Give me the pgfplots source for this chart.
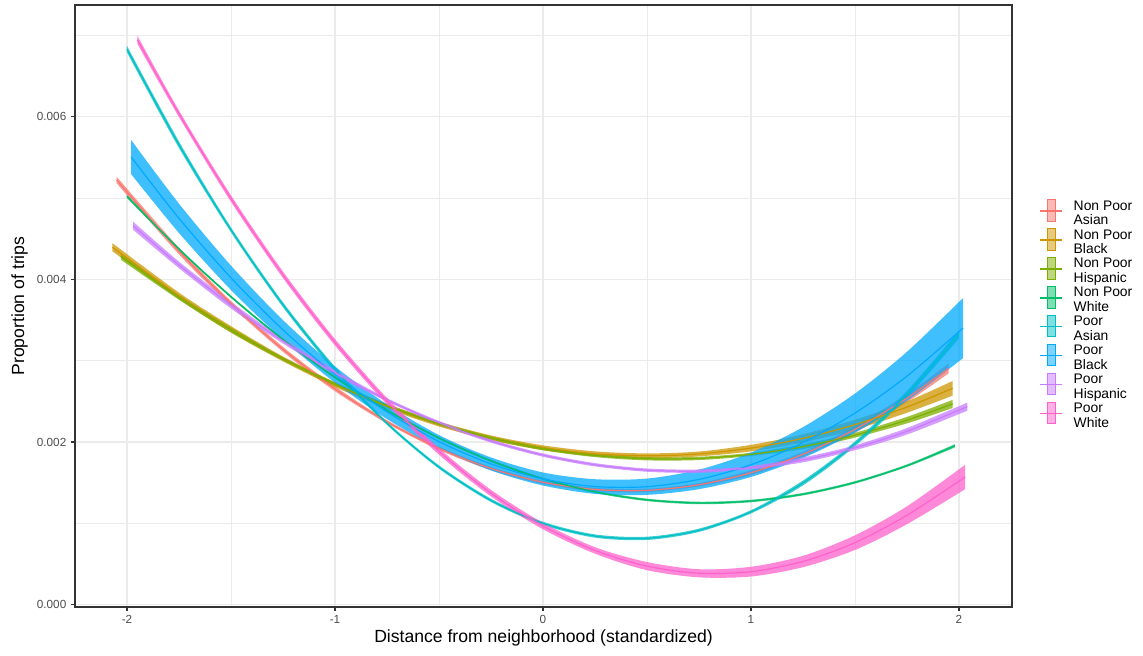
\documentclass[border=0pt]{standalone}
\usepackage{pgfplots}
\pgfplotsset{compat=1.18}
\usepackage{pgfplotstable}
\usepgfplotslibrary{fillbetween}
\usepackage{fontspec}
\setmainfont{Liberation Sans}

\definecolor{colA}{HTML}{F8766D}
\definecolor{colB}{HTML}{CD9600}
\definecolor{colC}{HTML}{7CAE00}
\definecolor{colD}{HTML}{00BE67}
\definecolor{colE}{HTML}{00BFC4}
\definecolor{colF}{HTML}{00A9FF}
\definecolor{colG}{HTML}{C77CFF}
\definecolor{colH}{HTML}{FF61CC}
\definecolor{gridmaj}{HTML}{EBEBEB}
\definecolor{tickgrey}{HTML}{4D4D4D}
\definecolor{border}{HTML}{333333}

% Non Poor Asian
\pgfplotstableread{
x y hw
-2.05 0.005225 0.00004
-1.75 0.004348 0.00004
-1.5 0.003704 0.00003
-1.25 0.00314 0.00003
-1 0.002655 0.00003
-0.75 0.002249 0.00002
-0.5 0.001922 0.00002
-0.25 0.001674 0.00002
0 0.001505 0.00002
0.25 0.001416 0.00002
0.5 0.001405 0.00002
0.75 0.001474 0.00002
1 0.001622 0.00003
1.25 0.001849 0.00003
1.5 0.002155 0.00004
1.75 0.00254 0.00005
1.95 0.002905 0.00006
}\tA
% Non Poor Black
\pgfplotstableread{
x y hw
-2.07 0.004396 0.00005
-1.75 0.003798 0.00004
-1.5 0.003386 0.00004
-1.25 0.003022 0.00003
-1 0.002707 0.00003
-0.75 0.00244 0.00003
-0.5 0.002221 0.00003
-0.25 0.002051 0.00003
0 0.001929 0.00003
0.25 0.001855 0.00003
0.5 0.00183 0.00003
0.75 0.001853 0.00003
1 0.001925 0.00004
1.25 0.002045 0.00005
1.5 0.002213 0.00006
1.75 0.00243 0.00007
1.97 0.002661 0.00009
}\tB
% Non Poor Hispanic
\pgfplotstableread{
x y hw
-2.03 0.004283 0.00004
-1.75 0.00378 0.00003
-1.5 0.003379 0.00003
-1.25 0.003023 0.00002
-1 0.002712 0.00002
-0.75 0.002446 0.00002
-0.5 0.002225 0.00002
-0.25 0.00205 0.00002
0 0.001919 0.00002
0.25 0.001834 0.00002
0.5 0.001794 0.00002
0.75 0.001798 0.00002
1 0.001848 0.00002
1.25 0.001943 0.00003
1.5 0.002084 0.00003
1.75 0.002269 0.00004
1.97 0.002469 0.00005
}\tC
% Non Poor White
\pgfplotstableread{
x y hw
-2 0.005021 0.00002
-1.75 0.004374 0.000015
-1.5 0.003787 0.000015
-1.25 0.003261 0.000015
-1 0.002796 0.000015
-0.75 0.002392 0.000015
-0.5 0.002049 0.000015
-0.25 0.001768 0.000015
0 0.001547 0.000015
0.25 0.001387 0.000015
0.5 0.001288 0.000015
0.75 0.00125 0.000015
1 0.001274 0.000015
1.25 0.001358 0.000015
1.5 0.001503 0.000015
1.75 0.001709 0.000015
1.98 0.001953 0.00002
}\tD
% Poor Asian
\pgfplotstableread{
x y hw
-2 0.006833 0.00004
-1.75 0.005657 0.00004
-1.5 0.00461 0.00003
-1.25 0.003689 0.00003
-1 0.002896 0.00003
-0.75 0.00223 0.00002
-0.5 0.001692 0.00002
-0.25 0.001282 0.00002
0 0.000999 0.00002
0.25 0.000843 0.00002
0.5 0.000815 0.00002
0.75 0.000914 0.00002
1 0.001141 0.00002
1.25 0.001496 0.00003
1.5 0.001978 0.00003
1.75 0.002587 0.00004
2 0.003324 0.00005
}\tE
% Poor Black
\pgfplotstableread{
x y hw
-1.98 0.005506 0.00021
-1.75 0.004752 0.00018
-1.5 0.00402 0.00015
-1.25 0.00338 0.00012
-1 0.00283 0.0001
-0.75 0.002372 0.00009
-0.5 0.002005 0.00008
-0.25 0.00173 0.00008
0 0.001545 0.00008
0.25 0.001452 0.00009
0.5 0.00145 0.0001
0.75 0.00154 0.00012
1 0.00172 0.00015
1.25 0.001993 0.00019
1.5 0.002356 0.00024
1.75 0.00281 0.0003
2.02 0.003403 0.00037
}\tF
% Poor Hispanic
\pgfplotstableread{
x y hw
-1.97 0.00466 0.00005
-1.75 0.004179 0.00004
-1.5 0.003683 0.00004
-1.25 0.003242 0.00003
-1 0.002854 0.00003
-0.75 0.002519 0.00002
-0.5 0.002239 0.00002
-0.25 0.002012 0.00002
0 0.001839 0.00002
0.25 0.00172 0.00002
0.5 0.001654 0.00002
0.75 0.001642 0.00002
1 0.001684 0.00002
1.25 0.00178 0.00003
1.5 0.001929 0.00003
1.75 0.002132 0.00004
2.04 0.002435 0.00005
}\tG
% Poor White
\pgfplotstableread{
x y hw
-1.95 0.006949 0.00005
-1.75 0.006038 0.00004
-1.5 0.004995 0.00004
-1.25 0.004057 0.00004
-1 0.003227 0.00004
-0.75 0.002502 0.00004
-0.5 0.001884 0.00004
-0.25 0.001371 0.00004
0 0.000966 0.00004
0.25 0.000666 0.00004
0.5 0.000473 0.00005
0.75 0.000385 0.00005
1 0.000405 0.00006
1.25 0.00053 0.00007
1.5 0.000762 0.00009
1.75 0.001099 0.00011
2.03 0.00157 0.00015
}\tH

\newcommand{\band}[3]{%
  \addplot[draw=none, smooth, forget plot, name path=u#1] table[x=x, y expr=\thisrow{y}+\thisrow{hw}] {#2};
  \addplot[draw=none, smooth, forget plot, name path=l#1] table[x=x, y expr=\thisrow{y}-\thisrow{hw}] {#2};
  \addplot[fill=#3, fill opacity=0.75, draw=none, forget plot] fill between[of=u#1 and l#1];
}
\newcommand{\curve}[2]{%
  \addplot[#2, smooth, line width=0.9pt, forget plot] table[x=x, y=y] {#1};
}

\pgfplotsset{keyimg/.style={legend image code/.code={%
  \fill[fill opacity=0.5] (5.25pt,-5.3pt) rectangle (11.25pt,10.8pt);
  \draw[line width=1.1pt] (0pt,2.2pt) -- (16.5pt,2.2pt);}}}

\begin{document}
\begin{tikzpicture}
\begin{axis}[
  scale only axis,
  width=702.75pt, height=451.5pt,
  xmin=-2.25, xmax=2.255,
  ymin=-0.00003, ymax=0.007377,
  axis line style={border, line width=0.8pt},
  xtick={-2,-1,0,1,2},
  xticklabels={-2,-1,0,1,2},
  ytick={0,0.002,0.004,0.006},
  yticklabels={0.000,0.002,0.004,0.006},
  scaled y ticks=false,
  minor xtick={-1.5,-0.5,0.5,1.5},
  minor ytick={0.001,0.003,0.005,0.007},
  grid=both,
  major grid style={gridmaj, line width=0.8pt},
  minor grid style={gridmaj, line width=0.45pt},
  tick align=outside,
  tick pos=left,
  major tick length=3pt,
  minor tick length=0pt,
  tick style={border, line width=0.8pt},
  ticklabel style={font=\fontsize{8.8}{10}\selectfont, text=tickgrey},
  xlabel={Distance from neighborhood (standardized)},
  ylabel={Proportion of trips},
  label style={font=\fontsize{13.2}{15}\selectfont},
  xlabel style={at={(axis description cs:0.5,0)}, anchor=center, yshift=-23.5pt},
  ylabel style={at={(axis description cs:0,0.5)}, anchor=center, yshift=41.5pt},
  legend style={at={(rel axis cs:1,0.485)}, anchor=west, xshift=17.5pt,
    draw=none, fill=none, row sep=0pt,
    /tikz/every odd column/.append style={column sep=5pt},
    nodes={align=left, inner xsep=3pt, inner ysep=0.2pt, text height=18.6pt, text depth=2.4pt,
      font=\fontsize{10.4}{11}\selectfont}},
  legend cell align=left,
]
\band{A}{\tA}{colA}
\band{B}{\tB}{colB}
\band{C}{\tC}{colC}
\band{D}{\tD}{colD}
\band{E}{\tE}{colE}
\band{F}{\tF}{colF}
\band{G}{\tG}{colG}
\band{H}{\tH}{colH}
\curve{\tA}{colA}
\curve{\tB}{colB}
\curve{\tC}{colC}
\curve{\tD}{colD}
\curve{\tE}{colE}
\curve{\tF}{colF}
\curve{\tG}{colG}
\curve{\tH}{colH}
\addlegendimage{colA, keyimg}\addlegendentry{Non Poor\\Asian}
\addlegendimage{colB, keyimg}\addlegendentry{Non Poor\\Black}
\addlegendimage{colC, keyimg}\addlegendentry{Non Poor\\Hispanic}
\addlegendimage{colD, keyimg}\addlegendentry{Non Poor\\White}
\addlegendimage{colE, keyimg}\addlegendentry{Poor\\Asian}
\addlegendimage{colF, keyimg}\addlegendentry{Poor\\Black}
\addlegendimage{colG, keyimg}\addlegendentry{Poor\\Hispanic}
\addlegendimage{colH, keyimg}\addlegendentry{Poor\\White}
\end{axis}
\path (current axis.south west) ++(-56.25pt,-36.75pt) coordinate (bbA);
\path (current axis.north east) ++(98.25pt,3.75pt) coordinate (bbB);
\path (bbA) rectangle (bbB);
\end{tikzpicture}
\end{document}
